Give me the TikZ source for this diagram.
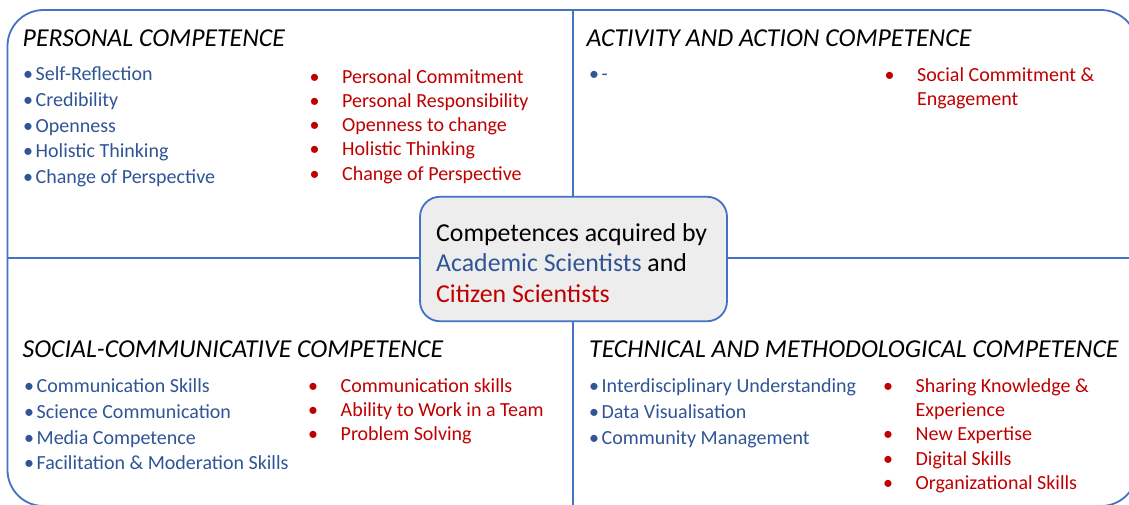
\documentclass[tikz,border=0pt]{standalone}
\usepackage{fontspec}
\setmainfont{Carlito}
\usepackage{xcolor}
\usepackage{tikz}
\usetikzlibrary{positioning}
\definecolor{acablue}{HTML}{2F5597}
\definecolor{citred}{HTML}{C00000}
\definecolor{frameblue}{HTML}{4472C4}
\definecolor{hubgray}{HTML}{EDEDED}
\tikzstyle{frame} = [draw=frameblue, line width=1.8pt]
\tikzstyle{heading} = [anchor=base west, inner sep=0pt, font=\fontsize{25.8}{30}\selectfont\itshape]
\tikzstyle{bluelist} = [anchor=base west, inner sep=0pt, text=acablue, font=\fontsize{20}{25.75}\selectfont]
\tikzstyle{redlist} = [anchor=base west, inner sep=0pt, text=citred, font=\fontsize{20}{24.2}\selectfont]
\tikzstyle{hubbox} = [rectangle, rounded corners=20pt, minimum width=307pt, minimum height=124.5pt, draw=frameblue, line width=1.8pt, fill=hubgray]
\tikzstyle{hubtext} = [anchor=base west, inner sep=0pt, font=\fontsize{25.8}{30.5}\selectfont]
\newcommand{\blueitem}[1]{\makebox[12.5pt][l]{\textbullet}#1}
\newcommand{\reditem}[1]{\makebox[32.5pt][l]{\textbullet}#1}
\newcommand{\redcont}[1]{\makebox[32.5pt][l]{}#1}

\begin{document}
\begin{tikzpicture}[x=1pt, y=-1pt]

				\useasboundingbox (0,0) rectangle (1129,504);
				\fill [white] (0,0) rectangle (1129,504);
				\clip (0,0) rectangle (1129,504);

				% Frame and dividers
				\draw [frame, rounded corners=36pt] (7.5,10) rectangle (1137,506);
				\draw [frame] (573.3,10) -- (573.3,506);
				\draw [frame] (7.5,258) -- (1137,258);

				% Headings
				\node (personal) [heading] at (22.5,46) {PERSONAL COMPETENCE};
				\node (activity) [heading] at (586.5,46) {ACTIVITY AND ACTION COMPETENCE};
				\node (social) [heading] at (22.5,357) {SOCIAL-COMMUNICATIVE COMPETENCE};
				\node (technical) [heading] at (589,357) {TECHNICAL AND METHODOLOGICAL COMPETENCE};

				% Personal competence
				\node (personalblue) [bluelist] at (23,80.5) {\begin{tabular}[t]{@{}l@{}}
					\blueitem{Self-Reflection}\\ \blueitem{Credibility}\\ \blueitem{Openness}\\
					\blueitem{Holistic Thinking}\\ \blueitem{Change of Perspective}\end{tabular}};
				\node (personalred) [redlist] at (309.5,83.3) {\begin{tabular}[t]{@{}l@{}}
					\reditem{Personal Commitment}\\ \reditem{Personal Responsibility}\\ \reditem{Openness to change}\\
					\reditem{Holistic Thinking}\\ \reditem{Change of Perspective}\end{tabular}};

				% Activity and action competence
				\node (activityblue) [bluelist] at (589,80) {\begin{tabular}[t]{@{}l@{}}
					\blueitem{-}\end{tabular}};
				\node (activityred) [redlist] at (884.5,81) {\begin{tabular}[t]{@{}l@{}}
					\reditem{Social Commitment \&}\\ \redcont{Engagement}\end{tabular}};

				% Social-communicative competence
				\node (socialblue) [bluelist] at (24,392.5) {\begin{tabular}[t]{@{}l@{}}
					\blueitem{Communication Skills}\\ \blueitem{Science Communication}\\
					\blueitem{Media Competence}\\ \blueitem{Facilitation \& Moderation Skills}\end{tabular}};
				\node (socialred) [redlist] at (308,392.5) {\begin{tabular}[t]{@{}l@{}}
					\reditem{Communication skills}\\ \reditem{Ability to Work in a Team}\\
					\reditem{Problem Solving}\end{tabular}};

				% Technical and methodological competence
				\node (technicalblue) [bluelist] at (589,392.5) {\begin{tabular}[t]{@{}l@{}}
					\blueitem{Interdisciplinary Understanding}\\ \blueitem{Data Visualisation}\\
					\blueitem{Community Management}\end{tabular}};
				\node (technicalred) [redlist] at (883,392.5) {\begin{tabular}[t]{@{}l@{}}
					\reditem{Sharing Knowledge \&}\\ \redcont{Experience}\\ \reditem{New Expertise}\\
					\reditem{Digital Skills}\\ \reditem{Organizational Skills}\end{tabular}};

				% Centre box
				\node (hub) [hubbox] at (573.5,259) {};
				\node (hubtext) [hubtext] at (436,241) {\begin{tabular}[t]{@{}l@{}}
					Competences acquired by\\ \textcolor{acablue}{Academic Scientists} and\\
					\textcolor{citred}{Citizen Scientists}\end{tabular}};

			\end{tikzpicture}
\end{document}
